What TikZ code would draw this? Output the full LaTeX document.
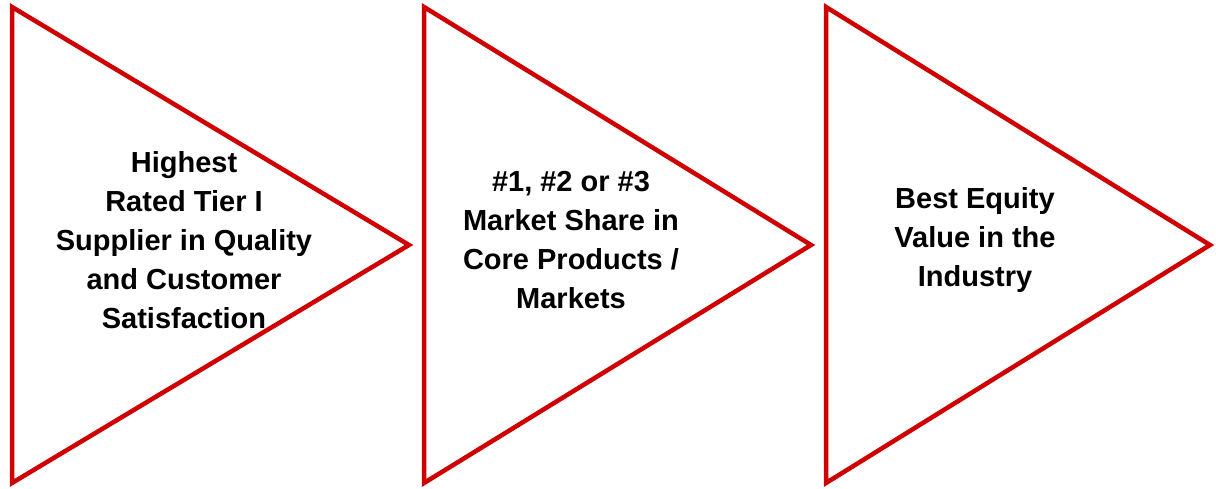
\documentclass[tikz,border=0pt]{standalone}
\usepackage{fontspec}
\setmainfont{Liberation Sans}
\definecolor{goalred}{RGB}{206,0,0}
\tikzset{goal/.style={draw=goalred, line width=4.5pt, line join=miter},
         goaltext/.style={align=center, font=\fontsize{29}{39}\selectfont\bfseries, inner sep=0pt}}

\begin{document}
\begin{tikzpicture}[x=1pt,y=1pt]
    \useasboundingbox (0,0) rectangle (1216,489);

    % the three arrow heads
    \draw[goal] (12,482) -- (12,6) -- (409,244) -- cycle;
    \draw[goal] (424,482) -- (424,6) -- (811,244) -- cycle;
    \draw[goal] (826,482) -- (826,6) -- (1210,244) -- cycle;

    \node[goaltext] (quality) at (184,249) {Highest\\Rated Tier I\\Supplier in Quality\\and Customer\\Satisfaction};
    \node[goaltext] (share) at (571,249) {\#1, \#2 or \#3\\Market Share in\\Core Products /\\Markets};
    \node[goaltext] (equity) at (975,249) {Best Equity\\Value in the\\Industry};
\end{tikzpicture}
\end{document}
